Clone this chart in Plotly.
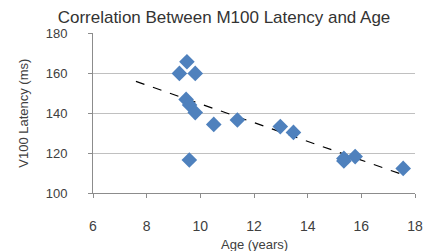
import numpy as np
import plotly.graph_objects as go

# Data
age_years = [9.50, 9.22, 9.81, 9.47, 9.60, 9.81, 10.50, 11.38, 9.59,
             12.98, 13.47, 15.35, 15.77, 15.35, 17.56]
latency_ms = [165.6, 159.8, 159.8, 146.8, 144.0, 140.2, 134.3, 136.5, 116.5,
              133.2, 130.3, 117.3, 118.2, 116.0, 112.3]
trend_x_range = [7.6, 17.6]
x_ticks = [6, 8, 10, 12, 14, 16, 18]
y_ticks = [100, 120, 140, 160, 180]

slope, intercept = np.polyfit(age_years, latency_ms, 1)
tx = np.array(trend_x_range)
ty = slope * tx + intercept

fig = go.Figure()
fig.add_trace(go.Scatter(
    x=tx, y=ty, mode="lines",
    line=dict(color="black", width=1.2, dash="dash"),
    showlegend=False, hoverinfo="skip"))
fig.add_trace(go.Scatter(
    x=age_years, y=latency_ms, mode="markers",
    marker=dict(symbol="diamond", size=12, color="#4F81BD",
                line=dict(width=0)),
    showlegend=False))

font_family = "Liberation Sans, Arial, sans-serif"
fig.update_layout(
    width=433, height=251,
    margin=dict(l=93, r=10, t=33, b=58),
    paper_bgcolor="white", plot_bgcolor="white",
    font=dict(family=font_family, size=12, color="#404040"),
    title=dict(text="Correlation Between M100 Latency and Age",
               x=224 / 433, xanchor="center", y=1 - 17 / 251, yanchor="middle",
               font=dict(size=17, color="#333333", family=font_family)),
    annotations=[
        dict(text="Age (years)", xref="paper", yref="paper",
             x=0.5, y=-(244 - 193) / 160,
             xanchor="center", yanchor="middle", showarrow=False,
             font=dict(size=13, color="#404040")),
        dict(text="V100 Latency (ms)", xref="paper", yref="paper",
             x=-(93 - 21) / 330, y=(193 - 113) / 160, textangle=-90,
             xanchor="center", yanchor="middle", showarrow=False,
             font=dict(size=13, color="#404040")),
    ],
)
fig.update_xaxes(
    range=[6, 18], tickvals=x_ticks, ticktext=[str(v) for v in x_ticks],
    showgrid=False, zeroline=False,
    showline=True, linecolor="#8c8c8c", linewidth=1,
    ticks="outside", ticklen=4, tickcolor="#8c8c8c",
    ticklabelstandoff=16,
    tickfont=dict(size=14, color="#404040"))
fig.update_yaxes(
    range=[100, 180], tickvals=y_ticks, ticktext=[str(v) for v in y_ticks],
    showgrid=True, gridcolor="#c0c0c0", gridwidth=1, zeroline=False,
    showline=True, linecolor="#8c8c8c", linewidth=1,
    ticks="outside", ticklen=4, tickcolor="#8c8c8c",
    ticklabelstandoff=18,
    tickfont=dict(size=13, color="#404040"))

fig.write_html("out.html", config={"displayModeBar": False},
               post_script="document.body.style.margin='0px';")
